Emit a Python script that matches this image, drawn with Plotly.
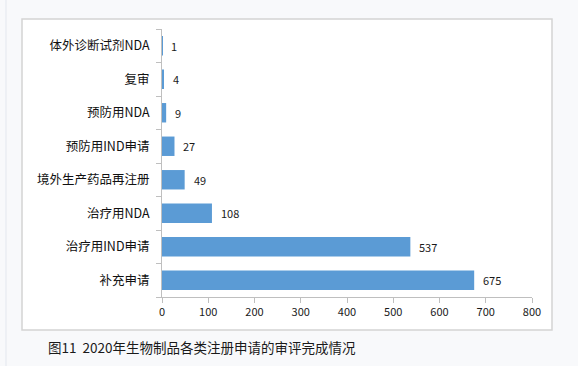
import plotly.graph_objects as go

categories = ["体外诊断试剂NDA", "复审", "预防用NDA", "预防用IND申请",
              "境外生产药品再注册", "治疗用NDA", "治疗用IND申请", "补充申请"]
values = [1, 4, 9, 27, 49, 108, 537, 675]
caption = "图11\u00a0\u00a02020年生物制品各类注册申请的审评完成情况"

W, H = 578, 366
L, R, T, B = 162, 532, 29, 297  # plot area in px


def px_x(px):
    return (px - L) / (R - L)


def px_y(py):
    return (B - py) / (B - T)


font_family = "Noto Sans CJK SC, Microsoft YaHei, sans-serif"

fig = go.Figure()
fig.add_trace(go.Bar(
    y=categories, x=values, orientation="h",
    marker=dict(color="#5b9bd5", line=dict(width=0)),
    width=0.58,
    hoverinfo="skip",
))

for c, v in zip(categories, values):
    fig.add_annotation(x=v, y=c, text=str(v), showarrow=False, xanchor="left",
                       xshift=7, font=dict(size=11, color="#1a1a1a", family=font_family))

# white chart box with grey border
fig.add_shape(type="rect", xref="paper", yref="paper",
              x0=px_x(22), x1=px_x(552), y0=px_y(330), y1=px_y(19),
              fillcolor="white", line=dict(color="#d4d4d4", width=1.5), layer="below")
# left thin line of page
fig.add_shape(type="line", xref="paper", yref="paper",
              x0=px_x(6), x1=px_x(6), y0=px_y(0), y1=px_y(366),
              line=dict(color="#e3e7ee", width=1), layer="below")

fig.add_annotation(xref="paper", yref="paper", x=px_x(46), y=px_y(347),
                   text=caption, showarrow=False, xanchor="left", yanchor="middle",
                   font=dict(size=13.5, color="#1a1a1a", family=font_family))

fig.update_layout(
    width=W, height=H,
    margin=dict(l=L, r=W - R, t=T, b=H - B, pad=0),
    paper_bgcolor="#f8f9fb",
    plot_bgcolor="rgba(0,0,0,0)",
    showlegend=False,
    bargap=0.42,
    font=dict(family=font_family, color="#262626"),
)
fig.update_xaxes(range=[0, 800], dtick=100, tick0=0, showgrid=False, zeroline=False,
                 showline=True, linecolor="#bfbfbf", linewidth=1,
                 ticks="outside", ticklen=5, tickcolor="#bfbfbf",
                 tickfont=dict(size=11, color="#1a1a1a"), fixedrange=True)
fig.update_yaxes(categoryorder="array", categoryarray=categories[::-1],
                 autorange=False, range=[-0.5, len(categories) - 0.5],
                 showgrid=False, zeroline=False,
                 showline=True, linecolor="#bfbfbf", linewidth=1,
                 ticks="outside", ticklen=5, tickcolor="#bfbfbf", tickson="boundaries",
                 ticklabelstandoff=9,
                 tickfont=dict(size=12.5, color="#111111"), fixedrange=True)

fig.write_html("out.html")
